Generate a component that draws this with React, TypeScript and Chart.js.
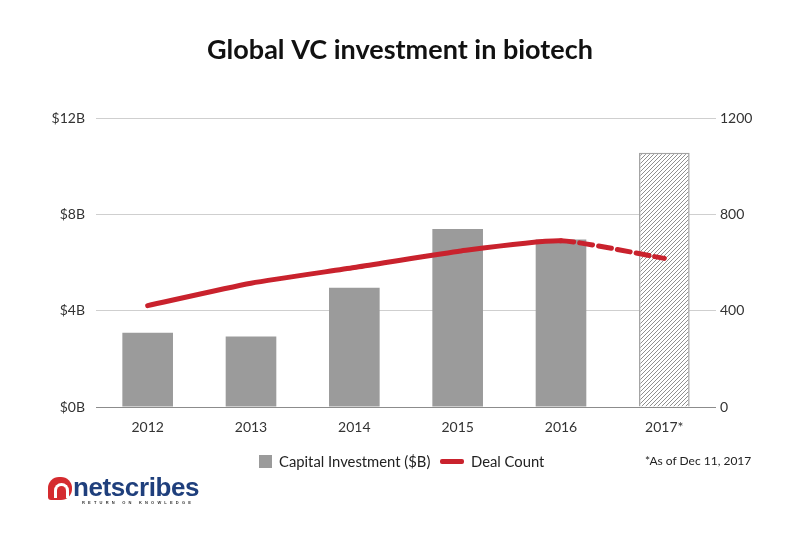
import React, { useEffect, useRef } from "react";
import { Chart, registerables } from "chart.js";

Chart.register(...registerables);

const categories = ["2012", "2013", "2014", "2015", "2016", "2017*"];
const capitalInvestment = [3.08, 2.93, 4.95, 7.39, 6.96, 10.56];
const dealCount = [421, 514, 579, 646, 690, 617];
const leftTicks = [0, 4, 8, 12];
const rightTicks = [0, 400, 800, 1200];
const titleText = "Global VC investment in biotech";
const footnote = "*As of Dec 11, 2017";

const FONT = "Lato, 'Open Sans', sans-serif";
const BAR_GRAY = "#9b9b9b";
const RED = "#c9222d";

function makeHatch(): CanvasPattern | string {
  const c = document.createElement("canvas");
  c.width = 4;
  c.height = 4;
  const g = c.getContext("2d");
  if (!g) return "#ddd";
  g.fillStyle = "#ffffff";
  g.fillRect(0, 0, 4, 4);
  g.strokeStyle = "#8f8f8f";
  g.lineWidth = 1;
  g.beginPath();
  g.moveTo(-1, 5);
  g.lineTo(5, -1);
  g.moveTo(-1, 1);
  g.lineTo(1, -1);
  g.moveTo(3, 5);
  g.lineTo(5, 3);
  g.stroke();
  const p = g.createPattern(c, "repeat");
  return p || "#ddd";
}

export default function App() {
  const ref = useRef<HTMLCanvasElement | null>(null);

  useEffect(() => {
    if (!ref.current) return;
    const hatch = makeHatch();
    const last = categories.length - 1;
    const chart = new Chart(ref.current, {
      type: "bar",
      data: {
        labels: categories,
        datasets: [
          {
            type: "line",
            label: "Deal Count",
            data: dealCount,
            yAxisID: "y2",
            borderColor: RED,
            backgroundColor: RED,
            borderWidth: 5,
            pointRadius: 0,
            tension: 0.2,
            borderCapStyle: "round",
            segment: {
              borderDash: (ctx: any) => (ctx.p1DataIndex === last ? [13, 6] : undefined),
            },
            order: 0,
          } as any,
          {
            type: "bar",
            label: "Capital Investment ($B)",
            data: capitalInvestment,
            yAxisID: "y",
            backgroundColor: capitalInvestment.map((_, i) => (i === last ? hatch : BAR_GRAY)),
            borderColor: capitalInvestment.map((_, i) => (i === last ? "#a3a3a3" : BAR_GRAY)),
            borderWidth: capitalInvestment.map((_, i) => (i === last ? 1.5 : 0)),
            categoryPercentage: 1,
            barPercentage: 0.49,
            order: 1,
          } as any,
        ],
      },
      options: {
        responsive: false,
        animation: false,
        layout: { padding: { left: 0, right: 0, top: 0, bottom: 99 } },
        plugins: {
          legend: { display: false },
          tooltip: { enabled: false },
          title: {
            display: true,
            text: titleText,
            color: "#111111",
            font: { family: FONT, size: 27, weight: "bold", lineHeight: 1.2 },
            padding: { top: 34, bottom: 51.6 },
          },
        },
        scales: {
          x: {
            grid: { display: false },
            border: { display: false },
            ticks: {
              color: "#333333",
              font: { family: FONT, size: 14 },
              padding: 4,
            },
            afterFit: (s: any) => {
              s.height = 40;
            },
          },
          y: {
            position: "left",
            min: 0,
            max: 12,
            border: { display: false },
            grid: {
              drawTicks: false,
              color: (ctx: any) => (ctx.tick && ctx.tick.value === 0 ? "#8c8c8c" : "#cfcfcf"),
              lineWidth: 1,
            },
            ticks: {
              color: "#333333",
              font: { family: FONT, size: 14 },
              padding: 11,
              callback: (v: any) => "$" + v + "B",
            },
            afterBuildTicks: (s: any) => {
              s.ticks = leftTicks.map((v) => ({ value: v }));
            },
            afterFit: (s: any) => {
              s.width = 96;
            },
          },
          y2: {
            position: "right",
            min: 0,
            max: 1200,
            border: { display: false },
            grid: { display: false, drawTicks: false },
            ticks: {
              color: "#333333",
              font: { family: FONT, size: 14 },
              padding: 4,
              callback: (v: any) => String(v),
            },
            afterBuildTicks: (s: any) => {
              s.ticks = rightTicks.map((v) => ({ value: v }));
            },
            afterFit: (s: any) => {
              s.width = 84;
            },
          },
        },
      } as any,
    });
    return () => chart.destroy();
  }, []);

  const legendText: React.CSSProperties = {
    position: "absolute",
    top: 452,
    height: 18,
    lineHeight: "18px",
    fontSize: 14.8,
    color: "#222",
    whiteSpace: "nowrap",
  };

  return (
    <div
      style={{
        position: "absolute",
        left: 0,
        top: 0,
        width: 800,
        height: 546,
        background: "#ffffff",
        fontFamily: FONT,
        overflow: "hidden",
      }}
    >
      <canvas ref={ref} width={800} height={546} style={{ display: "block", width: 800, height: 546 }} />
      <div style={{ position: "absolute", left: 259, top: 455, width: 13, height: 13, background: BAR_GRAY }} />
      <div style={{ ...legendText, left: 279 }}>Capital Investment ($B)</div>
      <div style={{ position: "absolute", left: 440, top: 459, width: 24, height: 5, background: RED, borderRadius: 2 }} />
      <div style={{ ...legendText, left: 471 }}>Deal Count</div>
      <div style={{ ...legendText, left: 645, fontSize: 12 }}>{footnote}</div>
      {/* logo */}
      <div
        style={{
          position: "absolute",
          left: 48,
          top: 477,
          width: 24,
          height: 23,
          background: "#d52b2f",
          borderRadius: "11px 11px 11px 3px",
        }}
      >
        <div
          style={{
            position: "absolute",
            left: 6,
            top: 6,
            width: 9,
            height: 12,
            border: "3px solid #ffffff",
            borderBottom: "none",
            borderRadius: "8px 8px 0 0",
          }}
        />
      </div>
      <div
        style={{
          position: "absolute",
          left: 73,
          top: 472,
          fontFamily: "'Liberation Sans', Arial, sans-serif",
          fontWeight: "bold",
          fontSize: 26,
          letterSpacing: -0.4,
          color: "#1f3f7c",
          lineHeight: "30px",
        }}
      >
        netscribes
      </div>
      <div
        style={{
          position: "absolute",
          left: 82,
          top: 500,
          fontFamily: "'Liberation Sans', Arial, sans-serif",
          fontWeight: "bold",
          fontSize: 4,
          letterSpacing: 3.2,
          color: "#333",
          lineHeight: "5px",
          whiteSpace: "nowrap",
        }}
      >
        RETURN ON KNOWLEDGE
      </div>
    </div>
  );
}
